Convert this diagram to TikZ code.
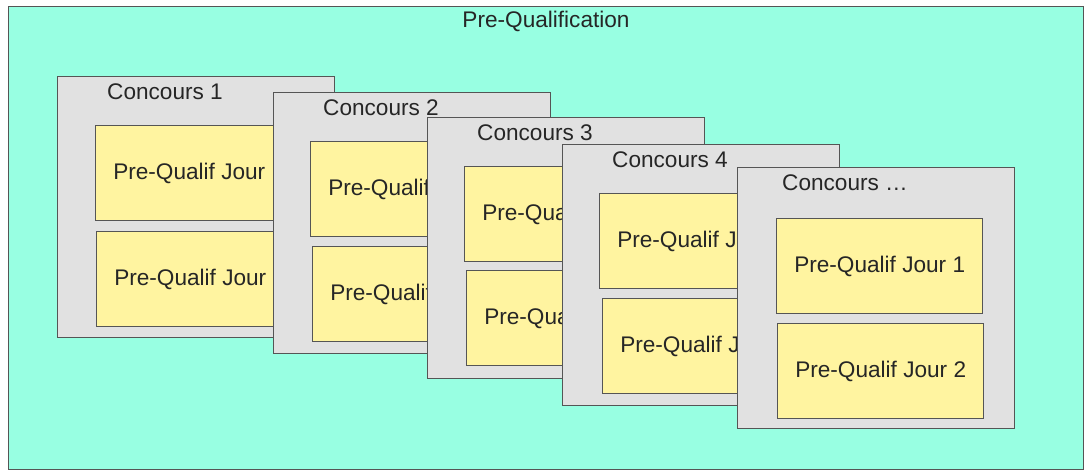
\documentclass[tikz,border=0pt]{standalone}
\usepackage{fontspec}
\setmainfont{Liberation Sans}
\usepackage{tikz}
\usetikzlibrary{calc,positioning}

\definecolor{prequalfill}{RGB}{152,255,226}
\definecolor{concoursfill}{RGB}{225,225,225}
\definecolor{jourfill}{RGB}{255,244,160}
\definecolor{boxline}{RGB}{85,85,85}

\tikzset{
  concours/.style={draw=boxline, fill=concoursfill, line width=0.7pt, minimum width=138.5pt, minimum height=130.5pt, inner sep=0pt, anchor=north west},
  jour/.style={draw=boxline, fill=jourfill, line width=0.7pt, minimum width=103pt, minimum height=47.5pt, inner sep=0pt, anchor=north west},
  titre/.style={inner sep=0pt}
}

\begin{document}
\begin{tikzpicture}[x=0.5pt,y=-0.5pt,font=\fontsize{11.3}{13.6}\selectfont,text=black!85]
\useasboundingbox (0,0) rectangle (1085,471);
\node[draw=boxline, fill=prequalfill, line width=0.5pt, minimum width=537.5pt, minimum height=231.5pt, inner sep=0pt, anchor=north west] (prequal) at (8,6) {};
\node[titre] (prequallab) at (546,21) {Pre-Qualification};

% Concours 1
\node[concours] (c1) at (57,76) {};
\node[titre] (c1lab) at ($(c1.north west)+(108,16)$) {Concours 1};
\node[jour] (c1j1) at ($(c1.north west)+(38,49)$) {Pre-Qualif Jour 1};
\node[jour] (c1j2) at ($(c1.north west)+(39,155)$) {Pre-Qualif Jour 2};

% Concours 2
\node[concours] (c2) at (273,92) {};
\node[titre] (c2lab) at ($(c2.north west)+(108,16)$) {Concours 2};
\node[jour] (c2j1) at ($(c2.north west)+(37,49)$) {Pre-Qualif Jour 1};
\node[jour] (c2j2) at ($(c2.north west)+(39,154)$) {Pre-Qualif Jour 2};

% Concours 3
\node[concours] (c3) at (427,117) {};
\node[titre] (c3lab) at ($(c3.north west)+(108,16)$) {Concours 3};
\node[jour] (c3j1) at ($(c3.north west)+(37,49)$) {Pre-Qualif Jour 1};
\node[jour] (c3j2) at ($(c3.north west)+(39,153)$) {Pre-Qualif Jour 2};

% Concours 4
\node[concours] (c4) at (562,144) {};
\node[titre] (c4lab) at ($(c4.north west)+(108,16)$) {Concours 4};
\node[jour] (c4j1) at ($(c4.north west)+(37,49)$) {Pre-Qualif Jour 1};
\node[jour] (c4j2) at ($(c4.north west)+(40,154)$) {Pre-Qualif Jour 2};

% Concours ...
\node[concours] (c5) at (737,167) {};
\node[titre] (c5lab) at ($(c5.north west)+(108,16)$) {Concours …};
\node[jour] (c5j1) at ($(c5.north west)+(39,51)$) {Pre-Qualif Jour 1};
\node[jour] (c5j2) at ($(c5.north west)+(40,156)$) {Pre-Qualif Jour 2};
\end{tikzpicture}
\end{document}
